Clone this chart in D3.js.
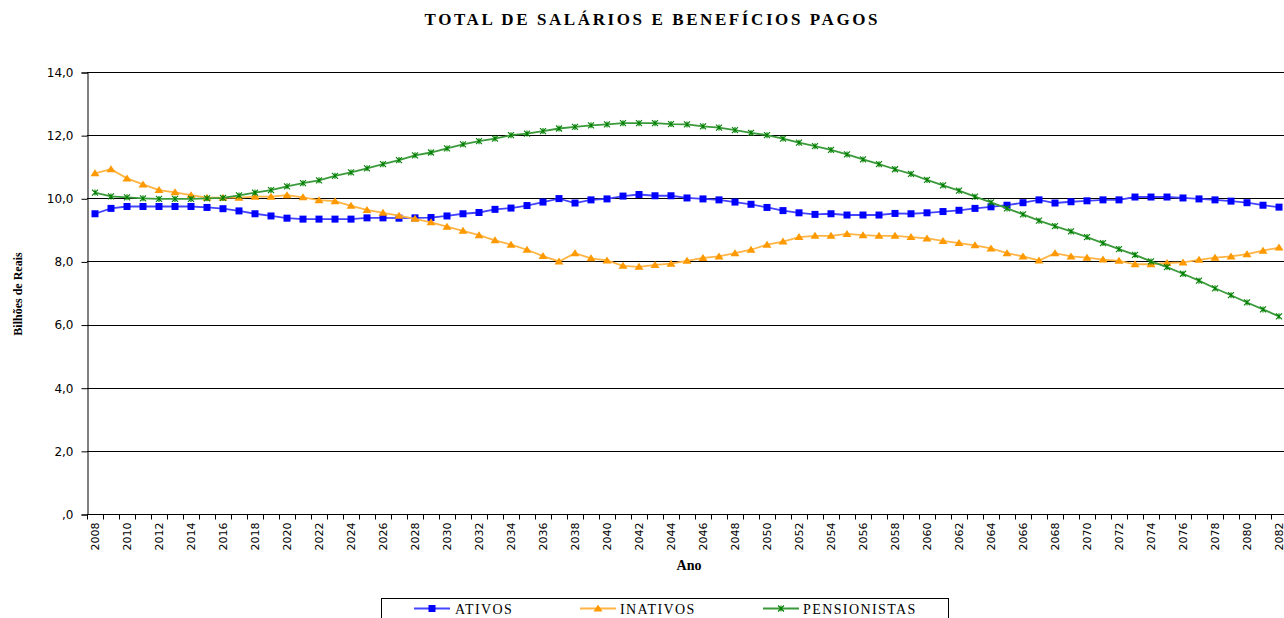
<!DOCTYPE html>
<html><head><meta charset="utf-8">
<script src="https://cdn.jsdelivr.net/npm/d3@7"></script>
<style>
html,body{margin:0;padding:0;background:#fff;}
svg{display:block;}
</style></head>
<body>
<svg id="chart" width="1284" height="618"></svg>
<script>
const years = d3.range(2008, 2083);
const ativos = [9.51,9.68,9.74,9.74,9.74,9.74,9.74,9.71,9.67,9.60,9.51,9.44,9.37,9.34,9.34,9.34,9.34,9.38,
  9.38,9.37,9.38,9.39,9.44,9.51,9.55,9.65,9.69,9.77,9.88,9.99,9.85,9.95,9.98,10.07,10.12,10.08,
  10.08,10.01,9.98,9.95,9.88,9.81,9.71,9.61,9.54,9.49,9.51,9.47,9.47,9.47,9.52,9.51,9.54,9.58,
  9.62,9.68,9.73,9.78,9.86,9.95,9.85,9.89,9.92,9.95,9.95,10.04,10.04,10.04,10.01,9.98,9.95,9.91,9.86,9.78,9.72];
const inativos = [10.79,10.92,10.63,10.44,10.26,10.19,10.10,10.02,10.02,10.02,10.05,10.05,10.10,10.03,9.94,9.91,9.76,9.63,
  9.54,9.45,9.35,9.24,9.10,8.97,8.83,8.67,8.53,8.37,8.17,8.00,8.26,8.10,8.03,7.86,7.83,7.89,
  7.93,8.02,8.11,8.16,8.26,8.37,8.53,8.63,8.77,8.81,8.81,8.87,8.83,8.81,8.81,8.77,8.73,8.65,
  8.58,8.51,8.41,8.26,8.16,8.03,8.26,8.16,8.12,8.06,8.02,7.91,7.91,7.95,7.97,8.05,8.12,8.16,8.23,8.34,8.44];
const pensionistas = [10.18,10.06,10.03,10.00,9.98,9.98,9.98,10.00,10.01,10.09,10.18,10.26,10.38,10.48,10.57,10.71,10.82,10.95,
  11.08,11.21,11.36,11.45,11.58,11.71,11.81,11.89,12.00,12.05,12.13,12.21,12.26,12.31,12.34,12.38,12.38,12.38,
  12.35,12.34,12.28,12.24,12.16,12.07,12.00,11.89,11.76,11.65,11.53,11.39,11.23,11.08,10.92,10.77,10.58,10.41,
  10.24,10.05,9.87,9.68,9.49,9.29,9.12,8.95,8.77,8.58,8.39,8.21,8.00,7.82,7.61,7.39,7.15,6.93,6.70,6.48,6.26];
const yTicks = [0, 2, 4, 6, 8, 10, 12, 14];
const yTickLabels = [",0", "2,0", "4,0", "6,0", "8,0", "10,0", "12,0", "14,0"];
const seriesNames = ["ATIVOS", "INATIVOS", "PENSIONISTAS"];
const titleText = "TOTAL DE SALÁRIOS E BENEFÍCIOS PAGOS";

const svg = d3.select("#chart");
const L = 87, R = 1287, T = 72, B = 514;
const x = d3.scaleBand().domain(years).range([L, R]).padding(0);
const y = d3.scaleLinear().domain([0, 14]).range([B, T]);
const cx = d => x(d) + x.bandwidth() / 2;
const serif = "'Liberation Serif','Times New Roman',serif";
const sans = "'DejaVu Sans',Verdana,sans-serif";

// title
svg.append("text").attr("x", 651).attr("y", 25).attr("text-anchor", "middle")
  .attr("font-family", serif).attr("font-weight", "bold").attr("font-size", 17)
  .attr("textLength", 453).attr("lengthAdjust", "spacing")
  .text(titleText);

// gridlines
svg.append("g").selectAll("line").data(yTicks.filter(v => v > 0)).join("line")
  .attr("x1", L).attr("x2", R)
  .attr("y1", d => Math.round(y(d)) + 0.5).attr("y2", d => Math.round(y(d)) + 0.5)
  .attr("stroke", "#000").attr("stroke-width", 1);

// y axis
const yAxis = d3.axisLeft(y).tickValues(yTicks)
  .tickFormat((d, i) => yTickLabels[i]).tickSize(6).tickPadding(8);
const gy = svg.append("g").attr("transform", `translate(${L + 0.5},0.5)`).call(yAxis);
gy.select(".domain").attr("stroke", "#000");
gy.selectAll("text").attr("font-family", sans).attr("font-size", 12).attr("fill", "#000");

// x axis
const gx = svg.append("g").attr("transform", `translate(0,${B + 0.5})`);
gx.append("line").attr("x1", L).attr("x2", R).attr("stroke", "#000");
gx.selectAll("line.tk").data(years.concat([null])).join("line").attr("class", "tk")
  .attr("x1", (d, i) => Math.round(L + i * x.bandwidth()) + 0.5)
  .attr("x2", (d, i) => Math.round(L + i * x.bandwidth()) + 0.5)
  .attr("y1", 0).attr("y2", 5).attr("stroke", "#000");
gx.selectAll("text").data(years.filter(d => d % 2 === 0)).join("text")
  .attr("transform", d => `translate(${cx(d) + 3.5},8) rotate(-90)`)
  .attr("text-anchor", "end").attr("font-family", sans).attr("font-size", 10)
  .attr("textLength", 28).attr("lengthAdjust", "spacingAndGlyphs")
  .text(d => d);

// axis titles
svg.append("text").attr("transform", "translate(22,294) rotate(-90)").attr("text-anchor", "middle")
  .attr("font-family", serif).attr("font-weight", "bold").attr("font-size", 12)
  .text("Bilhões de Reais");
svg.append("text").attr("x", 689).attr("y", 570).attr("text-anchor", "middle")
  .attr("font-family", serif).attr("font-weight", "bold").attr("font-size", 14)
  .text("Ano");

// series
const styles = [
  {data: ativos, line: "#4444ff", mark: "#0000ff", shape: "square"},
  {data: inativos, line: "#ffb444", mark: "#ff9900", shape: "triangle"},
  {data: pensionistas, line: "#3a9a3a", mark: "#008000", shape: "star"}
];
const lineGen = d3.line().x((d, i) => cx(years[i])).y(d => y(d));

function drawMarker(g, shape, color, px, py) {
  if (shape === "square") {
    g.append("rect").attr("x", px - 3.5).attr("y", py - 3.5).attr("width", 7).attr("height", 7).attr("fill", color);
  } else if (shape === "triangle") {
    g.append("path").attr("d", `M${px},${py - 4}L${px + 4.5},${py + 3}L${px - 4.5},${py + 3}Z`).attr("fill", color);
  } else {
    g.append("path").attr("d", `M${px - 3},${py - 3}L${px + 3},${py + 3}M${px - 3},${py + 3}L${px + 3},${py - 3}M${px},${py - 3}L${px},${py + 3}`)
      .attr("stroke", color).attr("stroke-width", 1.1).attr("fill", "none");
  }
}

styles.forEach(s => {
  svg.append("path").datum(s.data).attr("d", lineGen).attr("fill", "none")
    .attr("stroke", s.line).attr("stroke-width", 1.8);
  const g = svg.append("g");
  s.data.forEach((v, i) => drawMarker(g, s.shape, s.mark, cx(years[i]), y(v)));
});

// legend
const lg = svg.append("g");
lg.append("rect").attr("x", 381.5).attr("y", 598.5).attr("width", 567).attr("height", 30)
  .attr("fill", "#fff").attr("stroke", "#000");
const legendPos = [{lx: 414, tx: 455}, {lx: 580, tx: 620}, {lx: 763, tx: 803}];
seriesNames.forEach((n, i) => {
  const p = legendPos[i], s = styles[i];
  lg.append("line").attr("x1", p.lx).attr("x2", p.lx + 36).attr("y1", 608.5).attr("y2", 608.5)
    .attr("stroke", s.line).attr("stroke-width", 1.8);
  drawMarker(lg, s.shape, s.mark, p.lx + 18, 608.5);
  lg.append("text").attr("x", p.tx).attr("y", 613.5).attr("font-family", serif).attr("font-size", 14)
    .attr("letter-spacing", 1.4).text(n);
});
</script>
</body></html>
